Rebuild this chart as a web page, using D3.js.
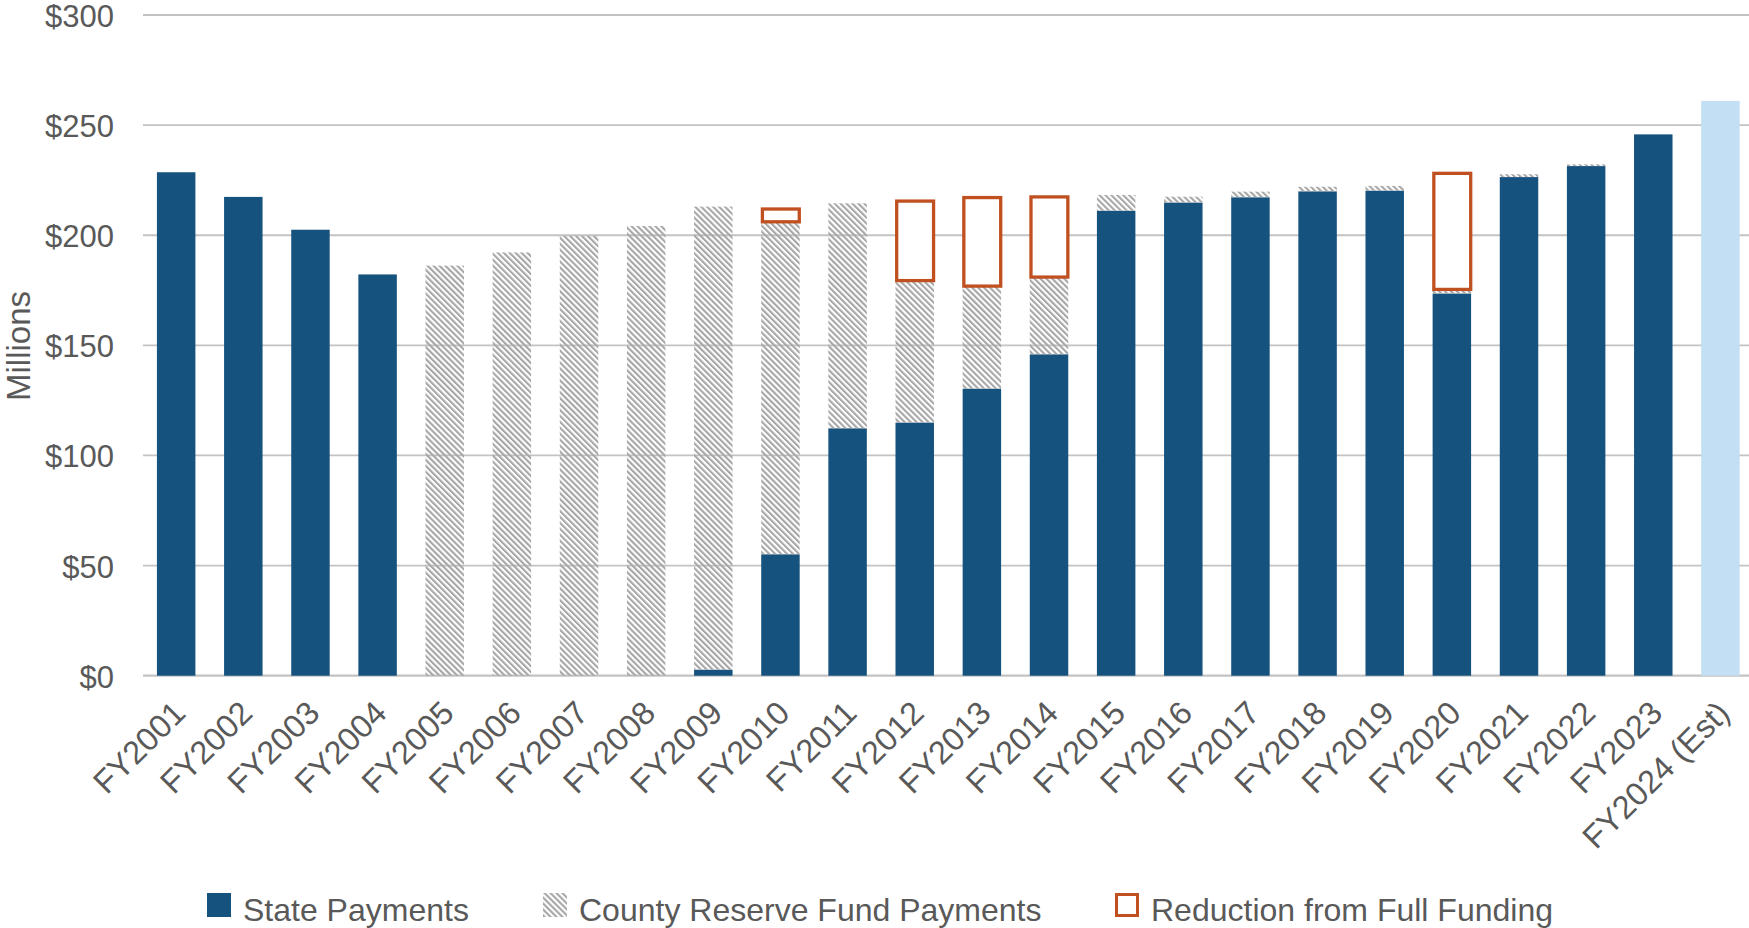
<!DOCTYPE html>
<html>
<head>
<meta charset="utf-8">
<script src="https://cdn.jsdelivr.net/npm/d3@7"></script>
<style>
	body { margin: 0; background: #fff; }
	text { font-family: "Liberation Sans", Arial, sans-serif; fill: #595959; }
</style>
</head>
<body>
<svg width="1749" height="928"></svg>
<script>
// values in $ millions
const years = ["FY2001", "FY2002", "FY2003", "FY2004", "FY2005", "FY2006", "FY2007", "FY2008",
	"FY2009", "FY2010", "FY2011", "FY2012", "FY2013", "FY2014", "FY2015", "FY2016", "FY2017",
	"FY2018", "FY2019", "FY2020", "FY2021", "FY2022", "FY2023", "FY2024 (Est)"];
const statePayments = [228.6, 217.4, 202.5, 182.2, 0, 0, 0, 0, 2.7, 55.1, 112.3, 114.9, 130.3,
	145.9, 211.1, 214.8, 217.2, 219.9, 220.2, 173.5, 226.4, 231.4, 245.8, 261.0];
const countyReserve = [0, 0, 0, 0, 186.2, 192.2, 199.7, 204.2, 210.3, 151.0, 102.2, 64.5, 46.6,
	35.1, 7.2, 2.7, 2.6, 2.1, 2.2, 1.9, 1.3, 0.8, 0, 0];
const reduction = [0, 0, 0, 0, 0, 0, 0, 0, 0, 5.8, 0, 36.1, 40.2, 36.4, 0, 0, 0, 0, 0, 52.7,
	0, 0, 0, 0];
const estimateYears = ["FY2024 (Est)"];
const yTicks = [0, 50, 100, 150, 200, 250, 300];
const legendItems = ["State Payments", "County Reserve Fund Payments", "Reduction from Full Funding"];

let svg = d3.select("svg"),
	width = +svg.attr("width"),
	height = +svg.attr("height");

const navy = "#16527e",
	estBlue = "#c3dff3",
	hatchGray = "#a6a6a6",
	redOrange = "#c0501f",
	gridGray = "#c3c3c3";

let table = years.map((y, i) => ({
	year: y,
	state: statePayments[i],
	county: countyReserve[i],
	reduction: reduction[i]
}));

let stack = d3.stack().keys(["state", "county", "reduction"]);
let series = stack(table);

let x = d3.scaleBand()
	.domain(years)
	.range([142.6, 1754])
	.paddingInner(0.427)
	.paddingOuter(0.2135);

let y = d3.scaleLinear()
	.domain([0, 300])
	.range([675.7, 15]);

// hatch for the county reserve fund
let defs = svg.append("defs");
defs.append("pattern")
	.attr("id", "hatch")
	.attr("patternUnits", "userSpaceOnUse")
	.attr("width", 4.2)
	.attr("height", 4.2)
	.attr("patternTransform", "rotate(-45)")
	.append("rect")
		.attr("width", 2.1)
		.attr("height", 4.2)
		.attr("fill", hatchGray);

// gridlines
let yAxis = d3.axisLeft(y)
	.tickValues(yTicks)
	.tickSize(0)
	.tickPadding(0)
	.tickFormat(d => "$" + d);

svg.append("g")
	.attr("class", "grid")
	.selectAll("line")
	.data(yTicks)
	.enter().append("line")
		.attr("x1", 143)
		.attr("x2", width)
		.attr("y1", d => y(d))
		.attr("y2", d => y(d))
		.attr("stroke", gridGray)
		.attr("stroke-width", d => d === 0 ? 2.2 : 1.8);

let ya = svg.append("g")
	.attr("transform", "translate(114,0)")
	.call(yAxis);
ya.select(".domain").remove();
ya.selectAll("text")
	.attr("font-size", 31)
	.attr("font-family", null)
	.attr("fill", "#595959")
	.attr("dy", "0.37em");

svg.append("text")
	.attr("transform", "translate(18,346) rotate(-90)")
	.attr("text-anchor", "middle")
	.attr("dy", "0.35em")
	.attr("font-size", 33)
	.text("Millions");

// state payments
svg.append("g")
	.selectAll("rect")
	.data(series[0])
	.enter().append("rect")
		.attr("x", d => x(d.data.year))
		.attr("y", d => y(d[1]))
		.attr("width", x.bandwidth())
		.attr("height", d => y(d[0]) - y(d[1]))
		.attr("fill", d => estimateYears.includes(d.data.year) ? estBlue : navy);

// county reserve fund
svg.append("g")
	.selectAll("rect")
	.data(series[1].filter(d => d[1] > d[0]))
	.enter().append("rect")
		.attr("x", d => x(d.data.year))
		.attr("y", d => y(d[1]))
		.attr("width", x.bandwidth())
		.attr("height", d => y(d[0]) - y(d[1]))
		.attr("fill", "url(#hatch)");

// reduction outline boxes
svg.append("g")
	.selectAll("rect")
	.data(series[2].filter(d => d[1] > d[0]))
	.enter().append("rect")
		.attr("x", d => x(d.data.year) + 1.2)
		.attr("y", d => y(d[1]))
		.attr("width", x.bandwidth() - 1.6)
		.attr("height", d => y(d[0]) - y(d[1]))
		.attr("fill", "#fff")
		.attr("stroke", redOrange)
		.attr("stroke-width", 3.3);

// x labels at -45 degrees
svg.append("g")
	.selectAll("text")
	.data(years)
	.enter().append("text")
		.attr("transform", d => "translate(" + (x(d) + x.bandwidth() / 2 + 3) + ",707) rotate(-45)")
		.attr("text-anchor", "end")
		.attr("dy", "0.35em")
		.attr("font-size", 32.5)
		.text(d => d);

// legend
let legendX = [207, 543, 1115];
let legend = svg.append("g")
	.selectAll("g")
	.data(legendItems)
	.enter().append("g")
		.attr("transform", (d, i) => "translate(" + legendX[i] + ",893)");

legend.append("rect")
	.attr("x", (d, i) => i === 2 ? 1.5 : 0)
	.attr("y", (d, i) => i === 2 ? 1.5 : 0)
	.attr("width", (d, i) => i === 2 ? 21 : 24)
	.attr("height", (d, i) => i === 2 ? 21 : 24)
	.attr("fill", (d, i) => i === 0 ? navy : i === 1 ? "url(#hatch)" : "#fff")
	.attr("stroke", (d, i) => i === 2 ? redOrange : null)
	.attr("stroke-width", 3);

legend.append("text")
	.attr("x", 36)
	.attr("y", 17)
	.attr("dy", "0.35em")
	.attr("font-size", 32)
	.text(d => d);
</script>
</body>
</html>
